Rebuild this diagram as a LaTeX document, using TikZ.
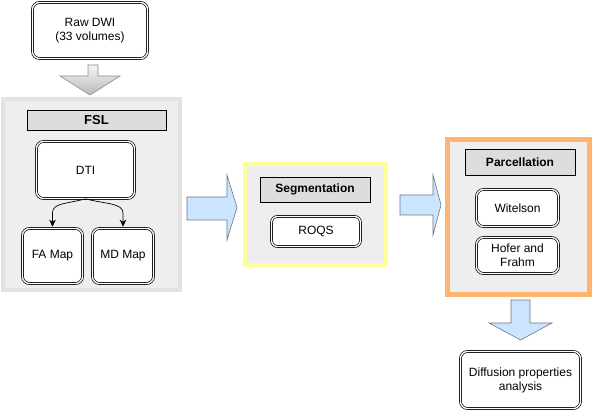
\documentclass[tikz,border=0pt]{standalone}
\usepackage{fontspec}
\setmainfont{Liberation Sans}
\usetikzlibrary{arrows.meta}
\definecolor{hdrfill}{HTML}{DDDDDD}
\definecolor{cfill}{HTML}{EEEEEE}
\definecolor{fslborder}{HTML}{E3E3E3}
\definecolor{segborder}{HTML}{FFFF99}
\definecolor{parborder}{HTML}{FFB570}
\definecolor{bluefill}{HTML}{CCE5FF}
\definecolor{bluedraw}{HTML}{6A7588}
\definecolor{graydraw}{HTML}{8A8A8A}
\tikzset{
  dbl/.style={draw=black, double=white, double distance=1.3pt, line width=0.7pt,
    rounded corners=7pt, fill=white, align=center, inner sep=0pt,
    font=\fontsize{12}{14}\selectfont},
  hdr/.style={draw=black, line width=0.6pt, fill=hdrfill, inner sep=0pt,
    font=\fontsize{12}{14}\selectfont\bfseries},
  cont/.style={fill=cfill, inner sep=0pt},
  conn/.style={draw=black, line width=0.7pt, -{Stealth[length=7pt,width=6.5pt,inset=2pt]}, shorten >=1.4pt},
  blockblue/.style={fill=bluefill, draw=bluedraw, line width=0.6pt, line join=miter},
  blockgray/.style={top color=gray!8, bottom color=gray!55, draw=graydraw, line width=0.6pt},
}
\begin{document}
\begin{tikzpicture}[x=1pt,y=-1pt]
\useasboundingbox (0,0) rectangle (593,411);
% containers
\node[cont, draw=fslborder, line width=4pt, minimum width=177pt, minimum height=191pt] (fslc) at (91.5,194.5) {};
\node[cont, draw=segborder, line width=4pt, minimum width=141pt, minimum height=101pt] (segc) at (315.5,214.5) {};
\node[cont, draw=parborder, line width=5pt, minimum width=142pt, minimum height=155pt] (parc) at (518.5,217) {};
% headers
\node[hdr, minimum width=139pt, minimum height=20pt, font=\fontsize{13}{15}\selectfont\bfseries] (fslh) at (96.5,120) {FSL};
\node[hdr, minimum width=110pt, minimum height=25pt] (segh) at (315,189.5) {Segmentation};
\node[hdr, minimum width=110pt, minimum height=26pt] (parh) at (520,162) {Parcellation};
% boxes
\node[dbl, minimum width=115pt, minimum height=56pt] (raw) at (90,30.5) {Raw DWI\\(33 volumes)};
\node[dbl, minimum width=98pt, minimum height=57pt] (dti) at (85.5,170) {DTI};
\node[dbl, minimum width=60pt, minimum height=55pt] (fa) at (52.5,256) {FA Map};
\node[dbl, minimum width=61pt, minimum height=55pt] (md) at (123,256) {MD Map};
\node[dbl, rounded corners=6pt, minimum width=89pt, minimum height=30pt] (roqs) at (316,231.5) {ROQS};
\node[dbl, minimum width=82pt, minimum height=37pt] (wit) at (517.5,208) {Witelson};
\node[dbl, minimum width=82pt, minimum height=36pt] (hof) at (517.5,255.5) {Hofer and\\Frahm};
\node[dbl, minimum width=120pt, minimum height=57pt] (diff) at (520.5,380) {Diffusion properties\\analysis};
% curved connectors
\draw[conn] (dti.south) .. controls (66,204) and (52.5,203) .. (52.5,213) -- (fa.north);
\draw[conn] (dti.south) .. controls (105,204) and (123,203) .. (123,213) -- (md.north);
% block arrows
\draw[blockgray] (88,65) -- (98,65) -- (98,76) -- (120,76) -- (90,95) -- (60,76) -- (88,76) -- cycle;
\draw[blockblue] (187,197) -- (227,197) -- (227,175) -- (237,207.5) -- (227,240) -- (227,220) -- (187,220) -- cycle;
\draw[blockblue] (400,195) -- (433,195) -- (433,175) -- (441,205) -- (433,235) -- (433,215) -- (400,215) -- cycle;
\draw[blockblue] (511,300) -- (530,300) -- (530,323) -- (552,323) -- (520.5,340) -- (489,323) -- (511,323) -- cycle;
\end{tikzpicture}
\end{document}
